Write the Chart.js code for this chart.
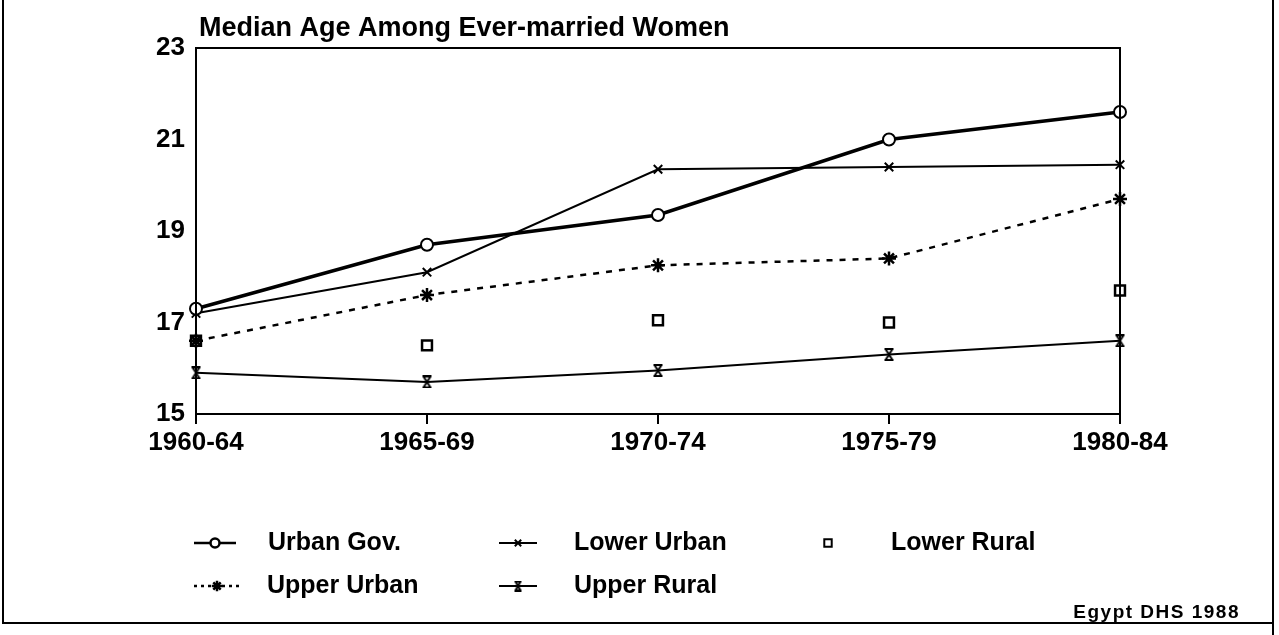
<!DOCTYPE html>
<html>
<head>
<meta charset="utf-8">
<title>Median Age Among Ever-married Women</title>
<script src="https://cdn.jsdelivr.net/npm/chart.js@4"></script>
<style>
    html, body { margin: 0; padding: 0; background: #fff; }
    #wrap { width: 1279px; height: 635px; }
</style>
</head>
<body>
<div id="wrap"><canvas id="ageChart" width="1279" height="635"></canvas></div>
<script>
// Data
const periods = ['1960-64', '1965-69', '1970-74', '1975-79', '1980-84'];
const urbanGov = [17.3, 18.7, 19.35, 21.0, 21.6];
const lowerUrban = [17.2, 18.1, 20.35, 20.4, 20.45];
const lowerRural = [16.6, 16.5, 17.05, 17.0, 17.7];
const upperUrban = [16.6, 17.6, 18.25, 18.4, 19.7];
const upperRural = [15.9, 15.7, 15.95, 16.3, 16.6];
const yTicks = [15, 17, 19, 21, 23];

const chartTitle = 'Median Age Among Ever-married Women';
const sourceNote = 'Egypt DHS 1988';

document.addEventListener('DOMContentLoaded', function() {
    const ctx = document.getElementById('ageChart');
    const fontFamily = '"Liberation Sans", Arial, Helvetica, sans-serif';
    const black = '#000';

    // hourglass marker used for Upper Rural
    function hourglassMarker(w, h) {
        const c = document.createElement('canvas');
        c.width = w;
        c.height = h;
        const g = c.getContext('2d');
        g.strokeStyle = black;
        g.lineWidth = 2;
        g.beginPath();
        g.moveTo(1, 1); g.lineTo(w - 1, 1);
        g.moveTo(1, h - 1); g.lineTo(w - 1, h - 1);
        g.moveTo(2, 1); g.lineTo(w - 2, h - 1);
        g.moveTo(w - 2, 1); g.lineTo(2, h - 1);
        g.stroke();
        return c;
    }
    const hourglass = hourglassMarker(11, 13);
    const hourglassSmall = hourglassMarker(9, 11);

    // where each legend entry goes (sample start, sample width, text x)
    const legendSpots = [
        { x: 194, y: 543, w: 42, tx: 268 },
        { x: 499, y: 543, w: 38, tx: 574 },
        { x: 828, y: 543, w: 0, tx: 891 },
        { x: 194, y: 586, w: 46, tx: 267 },
        { x: 499, y: 586, w: 38, tx: 574 }
    ];

    const decorations = {
        id: 'decorations',
        afterDraw(chart) {
            const c = chart.ctx;
            const area = chart.chartArea;
            c.save();

            // box around the plot
            c.strokeStyle = black;
            c.lineWidth = 2;
            c.strokeRect(area.left, area.top, area.right - area.left, area.bottom - area.top);

            // outer frame
            c.beginPath();
            c.moveTo(3, 0); c.lineTo(3, 623); c.lineTo(1273, 623);
            c.moveTo(1273, 0); c.lineTo(1273, 635);
            c.stroke();

            // title
            c.fillStyle = black;
            c.font = 'bold 27px ' + fontFamily;
            c.textAlign = 'left';
            c.textBaseline = 'middle';
            c.fillText(chartTitle, 199, 29);

            // legend
            chart.data.datasets.forEach(function(ds, i) {
                const spot = legendSpots[i];
                if (!spot) return;
                c.strokeStyle = black;
                c.fillStyle = black;
                if (ds.showLine !== false && spot.w > 0) {
                    c.lineWidth = Math.min(ds.borderWidth, 2.5);
                    c.setLineDash(ds.borderDash ? [3, 4] : []);
                    c.beginPath();
                    c.moveTo(spot.x, spot.y);
                    c.lineTo(spot.x + spot.w, spot.y);
                    c.stroke();
                    c.setLineDash([]);
                }
                const hollow = ds.pointStyle === 'circle' || ds.pointStyle === 'rect';
                c.fillStyle = hollow ? '#fff' : black;
                c.strokeStyle = black;
                Chart.helpers.drawPoint(c, {
                    pointStyle: ds.pointStyle === hourglass ? hourglassSmall : ds.pointStyle,
                    rotation: 0,
                    radius: ds.pointRadius * 0.75,
                    borderWidth: 1.8
                }, spot.x + spot.w / 2, spot.y);
                c.fillStyle = black;
                c.font = 'bold 25px ' + fontFamily;
                c.textBaseline = 'middle';
                c.fillText(ds.label, spot.tx, spot.y);
            });

            // source note
            c.font = 'bold 19px ' + fontFamily;
            c.letterSpacing = '1.5px';
            c.textAlign = 'right';
            c.fillText(sourceNote, 1240, 613);
            c.restore();
        }
    };

    new Chart(ctx, {
        type: 'line',
        data: {
            labels: periods,
            datasets: [{
                label: 'Urban Gov.',
                data: urbanGov,
                borderColor: black,
                borderWidth: 3.5,
                pointStyle: 'circle',
                pointRadius: 6,
                pointBorderWidth: 2,
                pointBackgroundColor: '#fff',
                pointBorderColor: black
            }, {
                label: 'Lower Urban',
                data: lowerUrban,
                borderColor: black,
                borderWidth: 2,
                pointStyle: 'crossRot',
                pointRadius: 6,
                pointBorderWidth: 2,
                pointBorderColor: black
            }, {
                label: 'Lower Rural',
                data: lowerRural,
                showLine: false,
                borderColor: black,
                borderWidth: 2,
                pointStyle: 'rect',
                pointRadius: 7,
                pointBorderWidth: 2.5,
                pointBackgroundColor: 'rgba(0,0,0,0)',
                pointBorderColor: black
            }, {
                label: 'Upper Urban',
                data: upperUrban,
                borderColor: black,
                borderWidth: 2.5,
                borderDash: [6, 7],
                pointStyle: 'star',
                pointRadius: 7,
                pointBorderWidth: 2.5,
                pointBorderColor: black
            }, {
                label: 'Upper Rural',
                data: upperRural,
                borderColor: black,
                borderWidth: 2,
                pointStyle: hourglass,
                pointRadius: 6,
                pointBorderColor: black
            }]
        },
        options: {
            responsive: false,
            animation: false,
            events: [],
            layout: { padding: { top: 48, right: 159, left: 0, bottom: 0 } },
            elements: { line: { tension: 0 } },
            plugins: {
                legend: { display: false },
                tooltip: { enabled: false },
                title: { display: false }
            },
            scales: {
                x: {
                    offset: false,
                    grid: {
                        display: true,
                        drawOnChartArea: false,
                        drawTicks: true,
                        tickLength: 10,
                        color: black,
                        lineWidth: 2
                    },
                    border: { display: true, color: black, width: 2 },
                    ticks: {
                        color: black,
                        padding: 3,
                        autoSkip: false,
                        maxRotation: 0,
                        font: { family: fontFamily, weight: 'bold', size: 26 }
                    },
                    afterFit: function(scale) { scale.height = 221; }
                },
                y: {
                    min: 15,
                    max: 23,
                    afterBuildTicks: function(scale) {
                        scale.ticks = yTicks.map(v => ({ value: v }));
                    },
                    grid: { display: false },
                    border: { display: true, color: black, width: 2 },
                    ticks: {
                        color: black,
                        padding: 3,
                        font: { family: fontFamily, weight: 'bold', size: 26 }
                    },
                    afterFit: function(scale) { scale.width = 196; }
                }
            }
        },
        plugins: [decorations]
    });
});
</script>
</body>
</html>
